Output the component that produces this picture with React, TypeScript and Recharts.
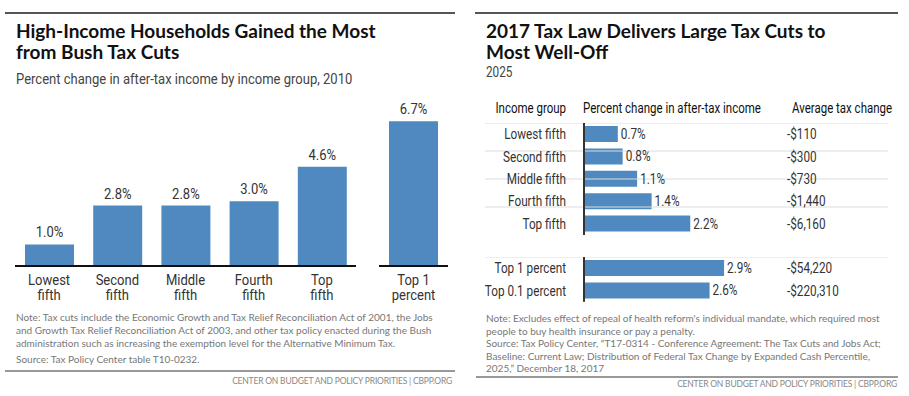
import React from "react";
import {
  BarChart,
  Bar,
  XAxis,
  YAxis,
  LabelList,
  ReferenceLine,
} from "recharts";

// ---------- data ----------
const bushGroups = ["Lowest fifth", "Second fifth", "Middle fifth", "Fourth fifth", "Top fifth"];
const bushValues = [1.0, 2.8, 2.8, 3.0, 4.6];
const bushTopGroups = ["Top 1 percent"];
const bushTopValues = [6.7];

const tcjaGroups = ["Lowest fifth", "Second fifth", "Middle fifth", "Fourth fifth", "Top fifth"];
const tcjaValues = [0.7, 0.8, 1.1, 1.4, 2.2];
const tcjaTaxChange = ["-$110", "-$300", "-$730", "-$1,440", "-$6,160"];
const tcjaTopGroups = ["Top 1 percent", "Top 0.1 percent"];
const tcjaTopValues = [2.9, 2.6];
const tcjaTopTaxChange = ["-$54,220", "-$220,310"];

const BLUE = "#5089c0";
const BODY = "'Roboto', sans-serif";
const HEAD = "'Lato', 'Roboto', sans-serif";
const LEFT_SX = 0.93; // left panel text is a bit condensed
const RIGHT_SX = 0.84; // right panel text is more condensed

const bushData = bushGroups.map((g, i) => ({ group: g, value: bushValues[i] }));
const bushTopData = bushTopGroups.map((g, i) => ({ group: g, value: bushTopValues[i] }));
const tcjaData = tcjaGroups.map((g, i) => ({ group: g, value: tcjaValues[i], tax: tcjaTaxChange[i] }));
const tcjaTopData = tcjaTopGroups.map((g, i) => ({ group: g, value: tcjaTopValues[i], tax: tcjaTopTaxChange[i] }));

const pct = (v: any) => `${Number(v).toFixed(1)}%`;

// ---------- helpers ----------
function Txt({ x, y, size, children, color = "#222", weight = 400, font = BODY, align = "left", lh, ls, sx = 1 }: any) {
  const style: React.CSSProperties = {
    position: "absolute",
    top: y,
    fontSize: size,
    lineHeight: lh ? `${lh}px` : `${size}px`,
    color,
    fontWeight: weight,
    fontFamily: font,
    whiteSpace: "pre",
    letterSpacing: ls,
    transform: sx !== 1 ? `scaleX(${sx})` : undefined,
    transformOrigin: align === "right" ? "right center" : "left center",
  };
  if (align === "right") {
    style.right = 909 - x;
    style.textAlign = "right";
  } else {
    style.left = x;
  }
  return <div style={style}>{children}</div>;
}

function Rule({ x1, x2, y, color, h }: any) {
  return <div style={{ position: "absolute", left: x1, top: y, width: x2 - x1, height: h, background: color }} />;
}

// svg text squeezed horizontally around its anchor
function SText({ x, y, anchor, sx, children, dy }: any) {
  return (
    <text
      transform={`translate(${x},${y}) scale(${sx},1)`}
      textAnchor={anchor}
      dy={dy}
      fontSize={14}
      fill="#333"
      fontFamily={BODY}
    >
      {children}
    </text>
  );
}

function TwoLineTick({ x, y, payload }: any) {
  const s: string = payload.value;
  const i = s.lastIndexOf(" ");
  return (
    <g>
      <SText x={x} y={y + 19} anchor="middle" sx={LEFT_SX}>{s.slice(0, i)}</SText>
      <SText x={x} y={y + 34} anchor="middle" sx={LEFT_SX}>{s.slice(i + 1)}</SText>
    </g>
  );
}

function BushLabel({ x, y, width, value }: any) {
  return (
    <SText x={x + width / 2} y={y - 7} anchor="middle" sx={LEFT_SX}>
      {pct(value)}
    </SText>
  );
}

function BushChart({ data, left, width }: any) {
  return (
    <div style={{ position: "absolute", left, top: 90 }}>
      <BarChart width={width} height={216} data={data} margin={{ top: 14, right: 0, bottom: 0, left: 0 }}>
        <XAxis
          dataKey="group"
          interval={0}
          tickLine={false}
          tickSize={0}
          tickMargin={0}
          axisLine={{ stroke: "#111", strokeWidth: 2 }}
          tick={<TwoLineTick />}
          height={40}
        />
        <YAxis hide type="number" domain={[0, 7.5]} allowDataOverflow />
        <Bar dataKey="value" fill={BLUE} barSize={49} isAnimationActive={false}>
          <LabelList dataKey="value" content={<BushLabel />} />
        </Bar>
      </BarChart>
    </div>
  );
}

function RowTick({ x, y, payload, anchor }: any) {
  return (
    <SText x={x} y={y} anchor={anchor} sx={RIGHT_SX} dy="0.36em">
      {payload.value}
    </SText>
  );
}

function TcjaLabel({ x, y, width, height, value }: any) {
  return (
    <SText x={x + width + 3} y={y + height / 2} anchor="start" sx={RIGHT_SX} dy="0.36em">
      {pct(value)}
    </SText>
  );
}

function TcjaChart({ data, top }: any) {
  const n = data.length;
  const seps = Array.from({ length: n - 1 }, (_, i) => i + 1);
  return (
    <div style={{ position: "absolute", left: 480, top }}>
      <BarChart
        width={415}
        height={22.4 * n}
        data={data}
        layout="vertical"
        margin={{ top: 0, right: 0, bottom: 0, left: 0 }}
      >
        <XAxis type="number" hide domain={[0, 3.644]} allowDataOverflow />
        <YAxis
          yAxisId="group"
          type="category"
          dataKey="group"
          width={104}
          tickLine={false}
          tickSize={0}
          tickMargin={18}
          axisLine={{ stroke: "#333", strokeWidth: 2 }}
          tick={<RowTick anchor="end" />}
          interval={0}
        />
        <YAxis
          yAxisId="tax"
          orientation="right"
          type="category"
          dataKey="tax"
          width={135}
          tickLine={false}
          tickSize={0}
          tickMargin={27}
          axisLine={false}
          tick={<RowTick anchor="start" />}
          interval={0}
        />
        <YAxis yAxisId="sep" hide type="number" domain={[0, n]} reversed />
        {seps.map((s) => (
          <ReferenceLine
            key={s}
            yAxisId="sep"
            segment={[
              { x: -2.05, y: s },
              { x: 6.29, y: s },
            ]}
            ifOverflow="visible"
            stroke="#dcdcdc"
            strokeWidth={1}
          />
        ))}
        <Bar yAxisId="group" dataKey="value" fill={BLUE} barSize={16} isAnimationActive={false}>
          <LabelList dataKey="value" content={<TcjaLabel />} />
        </Bar>
      </BarChart>
    </div>
  );
}

export default function App() {
  return (
    <div style={{ position: "absolute", left: 0, top: 0, width: 909, height: 396, background: "#fff", overflow: "hidden" }}>
      {/* ---------- left panel ---------- */}
      <Rule x1={5} x2={455} y={12} h={1.5} color="#555" />
      <Txt x={16} y={20} size={19} lh={21} weight={700} font={HEAD} color="#111">
        {"High-Income Households Gained the Most\nfrom Bush Tax Cuts"}
      </Txt>
      <Txt x={16} y={72} size={14} color="#444" sx={LEFT_SX}>
        Percent change in after-tax income by income group, 2010
      </Txt>
      <BushChart data={bushData} left={15} width={341} />
      <BushChart data={bushTopData} left={379} width={69} />
      <Txt x={16} y={311} size={10} lh={13} font={HEAD} color="#777">
        {"Note: Tax cuts include the Economic Growth and Tax Relief Reconciliation Act of 2001, the Jobs\nand Growth Tax Relief Reconciliation Act of 2003, and other tax policy enacted during the Bush\nadministration such as increasing the exemption level for the Alternative Minimum Tax."}
      </Txt>
      <Txt x={16} y={353} size={10} lh={13} font={HEAD} color="#777">Source: Tax Policy Center table T10-0232.</Txt>
      <Rule x1={5} x2={455} y={370} h={2} color="#999" />
      <Txt x={452} y={377} size={8.5} align="right" font={HEAD} color="#888" ls={-0.2}>
        CENTER ON BUDGET AND POLICY PRIORITIES | CBPP.ORG
      </Txt>

      {/* ---------- right panel ---------- */}
      <Rule x1={475} x2={898} y={12} h={1.5} color="#555" />
      <Txt x={486} y={20} size={19} lh={21} weight={700} font={HEAD} color="#111">
        {"2017 Tax Law Delivers Large Tax Cuts to\nMost Well-Off"}
      </Txt>
      <Txt x={486} y={65} size={14} color="#444" sx={RIGHT_SX}>2025</Txt>
      <Txt x={566} y={101} size={14} align="right" color="#111" sx={0.82}>Income group</Txt>
      <Txt x={583} y={101} size={14} color="#111" sx={0.82}>Percent change in after-tax income</Txt>
      <Txt x={792} y={101} size={14} color="#111" sx={0.82}>Average tax change</Txt>
      <TcjaChart data={tcjaData} top={123} />
      <TcjaChart data={tcjaTopData} top={257} />
      <Txt x={486} y={312} size={10} lh={13} font={HEAD} color="#777">
        {"Note: Excludes effect of repeal of health reform's individual mandate, which required most\npeople to buy health insurance or pay a penalty."}
      </Txt>
      <Txt x={486} y={337} size={10} lh={12.5} font={HEAD} color="#777">
        {"Source: Tax Policy Center, \u201cT17-0314 - Conference Agreement: The Tax Cuts and Jobs Act;\nBaseline: Current Law; Distribution of Federal Tax Change by Expanded Cash Percentile,\n2025,\u201d December 18, 2017"}
      </Txt>
      <Rule x1={476} x2={898} y={376} h={2} color="#999" />
      <Txt x={897} y={380} size={8.5} align="right" font={HEAD} color="#888" ls={-0.2}>
        CENTER ON BUDGET AND POLICY PRIORITIES | CBPP.ORG
      </Txt>
    </div>
  );
}
